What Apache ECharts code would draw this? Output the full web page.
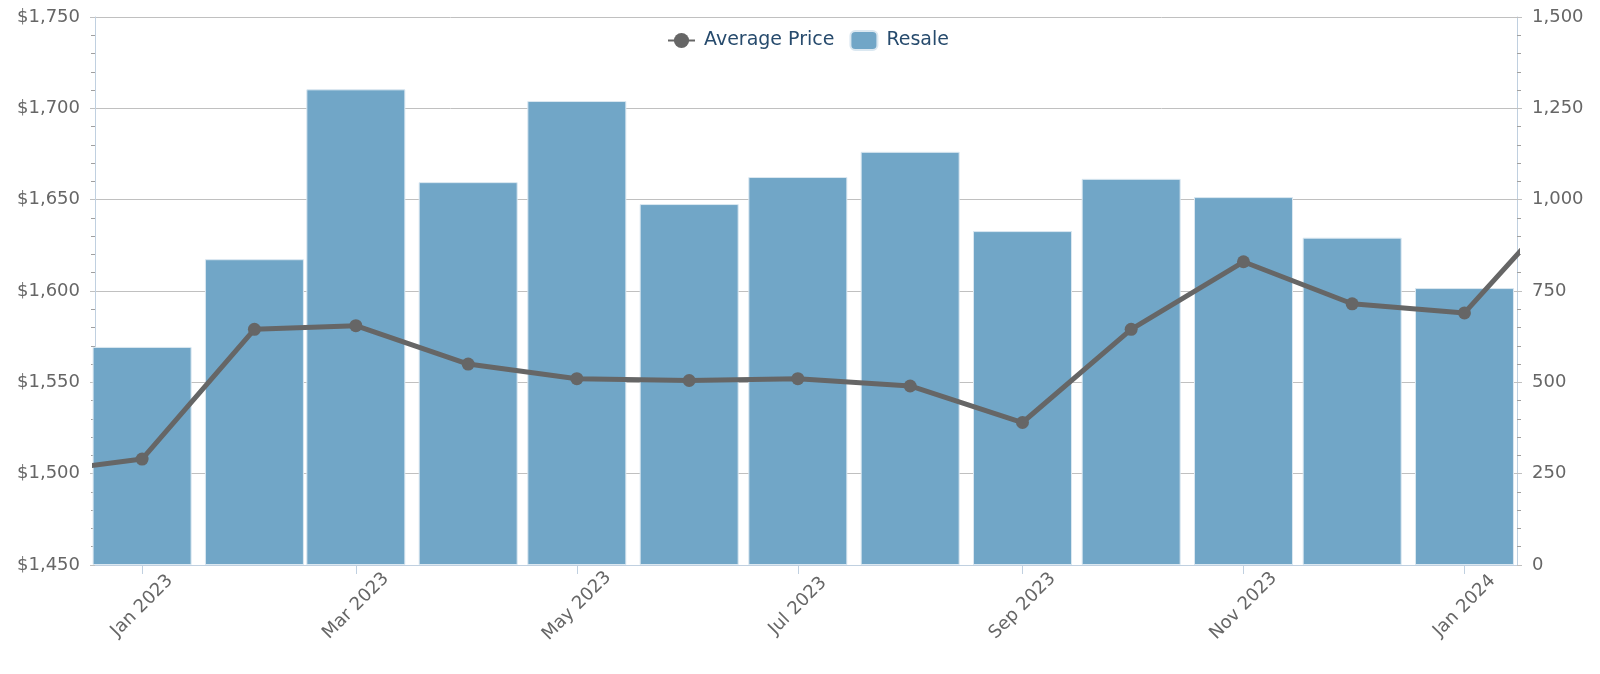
<!DOCTYPE html>
<html>
<head>
<meta charset="utf-8">
<title>Average Price vs Resale</title>
<script src="https://cdn.jsdelivr.net/npm/echarts@6/dist/echarts.min.js"></script>
<style>
  html, body { margin: 0; padding: 0; background: #fff; }
  #chart { width: 1600px; height: 674px; }
</style>
</head>
<body>
<div id="chart"></div>
<script>
// line runs one month past each end of the bars (clipped by the plot area)
const priceMonths = ['2022-12', '2023-01', '2023-02', '2023-03', '2023-04', '2023-05', '2023-06',
  '2023-07', '2023-08', '2023-09', '2023-10', '2023-11', '2023-12', '2024-01', '2024-02']
const avgPrice = [1500, 1508, 1579, 1581, 1560, 1552, 1551, 1552, 1548, 1528, 1579, 1616, 1593, 1588, 1656]

const resaleMonths = ['2023-01', '2023-02', '2023-03', '2023-04', '2023-05', '2023-06', '2023-07',
  '2023-08', '2023-09', '2023-10', '2023-11', '2023-12', '2024-01']
const resale = [597, 837, 1302, 1048, 1270, 988, 1062, 1131, 914, 1057, 1007, 896, 758]

// x labels every second month
const tickMonths = ['2023-01', '2023-03', '2023-05', '2023-07', '2023-09', '2023-11', '2024-01']
const monthNames = ['Jan', 'Feb', 'Mar', 'Apr', 'May', 'Jun', 'Jul', 'Aug', 'Sep', 'Oct', 'Nov', 'Dec']

const ts = m => Date.UTC(+m.slice(0, 4), +m.slice(5, 7) - 1, 1)
const fmtNum = v => v.toLocaleString('en-US')

const font = 'DejaVu Sans, sans-serif'
const labelStyle = { color: '#666666', fontSize: 18, fontFamily: font }

let chart = echarts.init(document.getElementById('chart'))
chart.setOption({
  animation: false,
  legend: {
    top: 25,
    left: 662,
    itemWidth: 27,
    itemHeight: 19,
    itemGap: 15,
    textStyle: { color: '#274b6d', fontSize: 19, fontFamily: font, padding: [0, 0, 0, 4] },
    data: ['Average Price', 'Resale']
  },
  grid: { left: 95, right: 83, top: 17, bottom: 109 },
  xAxis: {
    // timestamps on a plain value axis so the month ticks can be placed exactly
    type: 'value',
    scale: true,
    min: Date.UTC(2022, 11, 19),
    max: Date.UTC(2024, 0, 15, 12),
    axisLine: { lineStyle: { color: '#C0D0E0', width: 1 } },
    axisTick: {
      show: true, length: 9, lineStyle: { color: '#C0D0E0' },
      customValues: tickMonths.map(ts)
    },
    axisLabel: Object.assign({}, labelStyle, {
      rotate: 45,
      margin: 41,
      align: 'center',
      verticalAlign: 'middle',
      customValues: tickMonths.map(ts),
      formatter: v => {
        const d = new Date(v)
        return monthNames[d.getUTCMonth()] + ' ' + d.getUTCFullYear()
      }
    }),
    splitLine: { show: false }
  },
  yAxis: [
    {
      type: 'value',
      min: 1450, max: 1750, interval: 50,
      axisLine: { show: true, lineStyle: { color: '#C0D0E0' } },
      axisTick: { show: true, length: 5, lineStyle: { color: '#C0C0C0' } },
      minorTick: { show: true, splitNumber: 5, length: 4, lineStyle: { color: '#A0A0A0' } },
      axisLabel: Object.assign({}, labelStyle, { margin: 15, formatter: v => '$' + fmtNum(v) }),
      splitLine: { show: true, lineStyle: { color: '#C0C0C0', width: 1 } }
    },
    {
      type: 'value',
      min: 0, max: 1500, interval: 250,
      axisLine: { show: true, lineStyle: { color: '#C0D0E0' } },
      axisTick: { show: true, length: 5, lineStyle: { color: '#C0C0C0' } },
      minorTick: { show: true, splitNumber: 5, length: 4, lineStyle: { color: '#A0A0A0' } },
      axisLabel: Object.assign({}, labelStyle, { margin: 15, formatter: v => fmtNum(v) }),
      splitLine: { show: false }
    }
  ],
  series: [
    {
      name: 'Average Price',
      type: 'line',
      yAxisIndex: 0,
      z: 3,
      data: priceMonths.map((m, i) => [ts(m), avgPrice[i]]),
      symbol: 'circle',
      symbolSize: 13,
      lineStyle: { color: '#666666', width: 5 },
      itemStyle: { color: '#666666' }
    },
    {
      name: 'Resale',
      type: 'bar',
      yAxisIndex: 1,
      z: 2,
      clip: true,
      barWidth: 99,
      data: resaleMonths.map((m, i) => [ts(m), resale[i]]),
      itemStyle: { color: '#71a6c7', borderColor: '#dbe8f1', borderWidth: 1, borderRadius: 0 }
    }
  ]
})
</script>
</body>
</html>
